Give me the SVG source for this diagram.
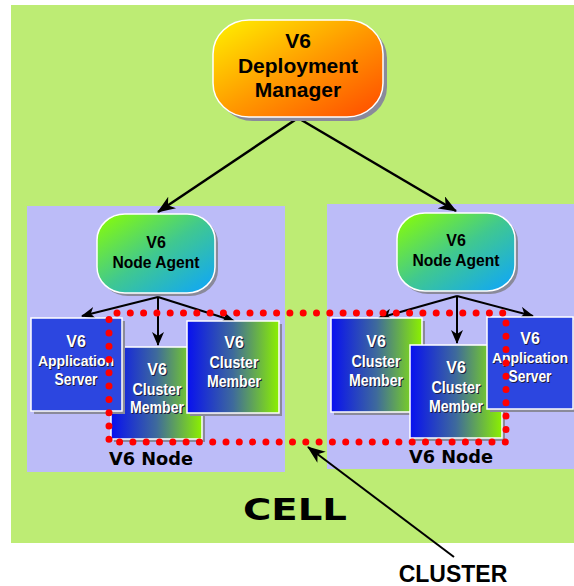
<svg xmlns="http://www.w3.org/2000/svg" width="574" height="586" viewBox="0 0 574 586">
<style>
.bg{fill:#bdec74}
.nodebox{fill:#bcbcf8}
.shadow{fill:#8a8a9a}
.dm{fill:url(#gDM);stroke:#ffffff;stroke-width:1.5}
.na{fill:url(#gNA);stroke:#ffffff;stroke-width:1.5}
.cm{fill:url(#gCM);stroke:#ffffff;stroke-width:1.5}
.as{fill:#2c46e0;stroke:#ffffff;stroke-width:1.5}
.tb{font-family:"Liberation Sans",Arial,sans-serif;font-weight:bold;text-anchor:middle}
.dark{fill:#000000}
.white{fill:#ffffff}
.wshadow{fill:#1a1a40}
.heavy{font-family:"DejaVu Sans",sans-serif;font-weight:bold;text-anchor:middle;fill:#000000}
.conn{stroke:#000000;fill:none}
.dots{fill:none;stroke:#ff0000;stroke-width:7;stroke-linecap:round;stroke-dasharray:0 13.3}
</style>
<defs>
<linearGradient id="gDM" x1="0" y1="0" x2="1" y2="1">
<stop offset="0" stop-color="#fff200"/>
<stop offset="0.5" stop-color="#ff9a00"/>
<stop offset="1" stop-color="#ff4a00"/>
</linearGradient>
<linearGradient id="gNA" x1="0" y1="0" x2="1" y2="1">
<stop offset="0" stop-color="#8cff00"/>
<stop offset="0.5" stop-color="#40c890"/>
<stop offset="1" stop-color="#0ca4ff"/>
</linearGradient>
<linearGradient id="gCM" x1="0" y1="0" x2="1" y2="0">
<stop offset="0" stop-color="#0810f0"/>
<stop offset="0.5" stop-color="#3e6a9c"/>
<stop offset="1" stop-color="#8cf000"/>
</linearGradient>
<marker id="ah" markerWidth="14" markerHeight="12" refX="13" refY="6" orient="auto" markerUnits="userSpaceOnUse">
<path d="M0,0 L14,6 L0,12 L4,6 Z" fill="#000000"/>
</marker>
<marker id="ahL" markerWidth="18" markerHeight="14" refX="17" refY="7" orient="auto" markerUnits="userSpaceOnUse">
<path d="M0,0 L18,7 L0,14 L5,7 Z" fill="#000000"/>
</marker>
</defs>

<rect class="bg" x="11" y="5" width="563" height="538"/>
<rect class="nodebox" x="27" y="206" width="258" height="266"/>
<rect class="nodebox" x="327" y="204" width="247" height="265"/>

<g id="connectors">
<line class="conn" stroke-width="2.5" x1="298" y1="118" x2="158" y2="212" marker-end="url(#ahL)"/>
<line class="conn" stroke-width="2.5" x1="298" y1="118" x2="456" y2="211" marker-end="url(#ahL)"/>
<line class="conn" stroke-width="2" x1="158" y1="297" x2="82" y2="316" marker-end="url(#ah)"/>
<line class="conn" stroke-width="2" x1="158" y1="297" x2="158" y2="345" marker-end="url(#ah)"/>
<line class="conn" stroke-width="2" x1="158" y1="297" x2="234" y2="321" marker-end="url(#ah)"/>
<line class="conn" stroke-width="2" x1="457" y1="296" x2="379" y2="318" marker-end="url(#ah)"/>
<line class="conn" stroke-width="2" x1="457" y1="296" x2="457" y2="343" marker-end="url(#ah)"/>
<line class="conn" stroke-width="2" x1="457" y1="296" x2="533" y2="316" marker-end="url(#ah)"/>
</g>

<g id="deployment-manager">
<rect class="shadow" x="217" y="24" width="170" height="97" rx="36" ry="34"/>
<rect class="dm" x="213" y="20" width="170" height="97" rx="36" ry="34"/>
<text class="tb dark" x="298" y="48" font-size="21">V6</text>
<text class="tb dark" x="298" y="73" font-size="21">Deployment</text>
<text class="tb dark" x="298" y="97" font-size="21">Manager</text>
</g>

<g id="node-agent-left">
<rect class="shadow" x="100" y="217" width="118" height="79" rx="28" ry="26"/>
<rect class="na" x="97" y="214" width="118" height="79" rx="28" ry="26"/>
<text class="tb dark" x="156" y="248" font-size="16">V6</text>
<text class="tb dark" x="156" y="268" font-size="16" textLength="87" lengthAdjust="spacingAndGlyphs">Node Agent</text>
</g>

<g id="node-agent-right">
<rect class="shadow" x="400" y="216" width="118" height="78" rx="28" ry="26"/>
<rect class="na" x="397" y="213" width="118" height="78" rx="28" ry="26"/>
<text class="tb dark" x="456" y="246" font-size="16">V6</text>
<text class="tb dark" x="456" y="266" font-size="16" textLength="87" lengthAdjust="spacingAndGlyphs">Node Agent</text>
</g>

<g id="cluster-member-left-1">
<rect class="shadow" x="114" y="350" width="91" height="92"/>
<rect class="cm" x="111" y="347" width="91" height="92"/>
<text class="tb wshadow" x="158" y="376" font-size="16">V6</text>
<text class="tb wshadow" x="158" y="396" font-size="16" textLength="49" lengthAdjust="spacingAndGlyphs">Cluster</text>
<text class="tb wshadow" x="158" y="414" font-size="16" textLength="54" lengthAdjust="spacingAndGlyphs">Member</text>
<text class="tb white" x="157" y="375" font-size="16">V6</text>
<text class="tb white" x="157" y="395" font-size="16" textLength="49" lengthAdjust="spacingAndGlyphs">Cluster</text>
<text class="tb white" x="157" y="413" font-size="16" textLength="54" lengthAdjust="spacingAndGlyphs">Member</text>
</g>

<g id="app-server-left">
<rect class="shadow" x="34" y="321" width="91" height="93"/>
<rect class="as" x="31" y="318" width="91" height="93"/>
<text class="tb wshadow" x="77" y="348" font-size="16">V6</text>
<text class="tb wshadow" x="77" y="367" font-size="14">Application</text>
<text class="tb wshadow" x="77" y="386" font-size="16" textLength="43" lengthAdjust="spacingAndGlyphs">Server</text>
<text class="tb white" x="76" y="347" font-size="16">V6</text>
<text class="tb white" x="76" y="366" font-size="14">Application</text>
<text class="tb white" x="76" y="385" font-size="16" textLength="43" lengthAdjust="spacingAndGlyphs">Server</text>
</g>

<g id="cluster-member-left-2">
<rect class="shadow" x="190" y="324" width="92" height="92"/>
<rect class="cm" x="187" y="321" width="92" height="92"/>
<text class="tb wshadow" x="235" y="349" font-size="16">V6</text>
<text class="tb wshadow" x="235" y="369" font-size="16" textLength="49" lengthAdjust="spacingAndGlyphs">Cluster</text>
<text class="tb wshadow" x="235" y="388" font-size="16" textLength="54" lengthAdjust="spacingAndGlyphs">Member</text>
<text class="tb white" x="234" y="348" font-size="16">V6</text>
<text class="tb white" x="234" y="368" font-size="16" textLength="49" lengthAdjust="spacingAndGlyphs">Cluster</text>
<text class="tb white" x="234" y="387" font-size="16" textLength="54" lengthAdjust="spacingAndGlyphs">Member</text>
</g>

<g id="cluster-member-right-1">
<rect class="shadow" x="334" y="321" width="91" height="94"/>
<rect class="cm" x="331" y="318" width="91" height="94"/>
<text class="tb wshadow" x="377" y="348" font-size="16">V6</text>
<text class="tb wshadow" x="377" y="368" font-size="16" textLength="49" lengthAdjust="spacingAndGlyphs">Cluster</text>
<text class="tb wshadow" x="377" y="387" font-size="16" textLength="54" lengthAdjust="spacingAndGlyphs">Member</text>
<text class="tb white" x="376" y="347" font-size="16">V6</text>
<text class="tb white" x="376" y="367" font-size="16" textLength="49" lengthAdjust="spacingAndGlyphs">Cluster</text>
<text class="tb white" x="376" y="386" font-size="16" textLength="54" lengthAdjust="spacingAndGlyphs">Member</text>
</g>

<g id="cluster-member-right-2">
<rect class="shadow" x="413" y="348" width="92" height="93"/>
<rect class="cm" x="410" y="345" width="92" height="93"/>
<text class="tb wshadow" x="457" y="374" font-size="16">V6</text>
<text class="tb wshadow" x="457" y="394" font-size="16" textLength="49" lengthAdjust="spacingAndGlyphs">Cluster</text>
<text class="tb wshadow" x="457" y="413" font-size="16" textLength="54" lengthAdjust="spacingAndGlyphs">Member</text>
<text class="tb white" x="456" y="373" font-size="16">V6</text>
<text class="tb white" x="456" y="393" font-size="16" textLength="49" lengthAdjust="spacingAndGlyphs">Cluster</text>
<text class="tb white" x="456" y="412" font-size="16" textLength="54" lengthAdjust="spacingAndGlyphs">Member</text>
</g>

<g id="app-server-right">
<rect class="shadow" x="490" y="320" width="84" height="92"/>
<rect class="as" x="487" y="317" width="86" height="92"/>
<text class="tb wshadow" x="531" y="345" font-size="16">V6</text>
<text class="tb wshadow" x="531" y="364" font-size="14">Application</text>
<text class="tb wshadow" x="531" y="383" font-size="16" textLength="43" lengthAdjust="spacingAndGlyphs">Server</text>
<text class="tb white" x="530" y="344" font-size="16">V6</text>
<text class="tb white" x="530" y="363" font-size="14">Application</text>
<text class="tb white" x="530" y="382" font-size="16" textLength="43" lengthAdjust="spacingAndGlyphs">Server</text>
</g>

<g id="cluster">
<path class="dots" d="M117,313 L506,313 L506,442 L109,442 L109,313"/>
</g>

<g id="labels">
<text class="heavy" x="151" y="465" font-size="17" textLength="84" lengthAdjust="spacingAndGlyphs">V6 Node</text>
<text class="heavy" x="451" y="463" font-size="17" textLength="84" lengthAdjust="spacingAndGlyphs">V6 Node</text>
<text class="heavy" x="295" y="520" font-size="30" textLength="104" lengthAdjust="spacingAndGlyphs">CELL</text>
<text class="tb dark" x="453" y="582" font-size="23">CLUSTER</text>
</g>

<g id="cluster-pointer">
<line class="conn" stroke-width="2" x1="454" y1="557" x2="308" y2="447" marker-end="url(#ahL)"/>
</g>
</svg>
